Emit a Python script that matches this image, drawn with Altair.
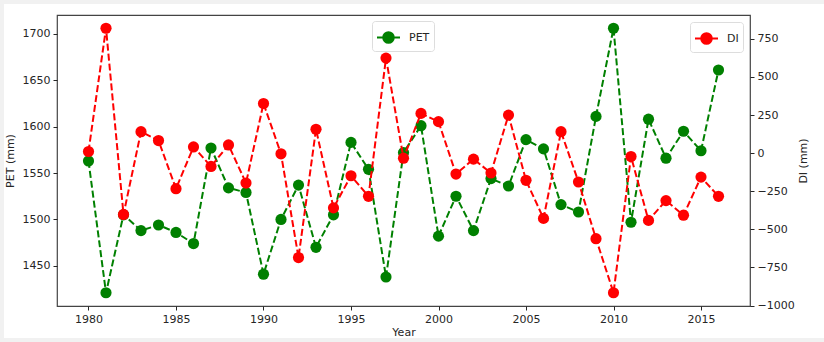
import altair as alt
import pandas as pd

years = list(range(1980, 2017))
pet = [1563, 1421, 1505, 1488, 1494, 1486, 1474, 1577, 1534, 1529,
       1441, 1500, 1537, 1470, 1505, 1583, 1554, 1438, 1572, 1601,
       1482, 1525, 1488, 1544, 1536, 1586, 1576, 1516, 1508, 1611,
       1706, 1497, 1608, 1566, 1595, 1574, 1661]
di = [11, 820, -402, 141, 83, -233, 41, -87, 54, -196,
      326, -4, -685, 157, -359, -148, -283, 624, -33, 261,
      207, -137, -39, -130, 250, -178, -428, 141, -189, -561,
      -916, -22, -441, -311, -407, -157, -283]

pet_ticks = [1450, 1500, 1550, 1600, 1650, 1700]
di_ticks = [-1000, -750, -500, -250, 0, 250, 500, 750]
year_ticks = [1980, 1985, 1990, 1995, 2000, 2005, 2010, 2015]

df = pd.DataFrame({"Year": years, "PET": pet, "DI": di,
                   "s_pet": "PET", "s_di": "DI"})


def padded(vals, frac=0.05):
    lo, hi = min(vals), max(vals)
    m = (hi - lo) * frac
    return [lo - m, hi + m]


FONT = "DejaVu Sans"
TXT = "#262626"
W, H = 693, 291

x_enc = alt.X("Year:Q",
              scale=alt.Scale(domain=padded(years), nice=False, zero=False),
              axis=alt.Axis(values=year_ticks, format="d", title="Year",
                            grid=False, domain=False, tickSize=4,
                            labelPadding=3, titlePadding=2, zindex=1,
                            tickColor=TXT, labelColor=TXT, titleColor=TXT,
                            labelFont=FONT, titleFont=FONT, labelFontSize=11,
                            titleFontSize=11, titleFontWeight="normal"))

sym_path = "M-1,0L1,0M-0.46,0A0.46,0.46,0,1,0,0.46,0A0.46,0.46,0,1,0,-0.46,0Z"

# light grey page border (screenshot frame)
frame = alt.Chart(pd.DataFrame({"a": [0]})).mark_rect(
    fill="transparent", stroke="#f1f1f1", strokeWidth=8).encode(
    x=alt.value(-57), x2=alt.value(790), y=alt.value(-15), y2=alt.value(327))


def series(field, sfield, name, color, ticks, orient, lx, ly, title, tpad):
    y_enc = alt.Y(f"{field}:Q",
                  scale=alt.Scale(domain=padded(df[field].tolist()),
                                  nice=False, zero=False),
                  axis=alt.Axis(values=ticks, title=title, orient=orient,
                                format="d",
                                grid=False, domain=False, tickSize=4,
                                labelPadding=3, titlePadding=tpad,
                                titleAngle=270, zindex=1,
                                tickColor=TXT, labelColor=TXT,
                                titleColor=TXT, labelFont=FONT,
                                titleFont=FONT, labelFontSize=11,
                                titleFontSize=11, titleFontWeight="normal"))
    line = alt.Chart(df).mark_line(color=color, strokeWidth=2,
                                   strokeDash=[7, 3]).encode(x=x_enc, y=y_enc)
    pts = alt.Chart(df).mark_point(filled=True, shape="circle", size=125,
                                   opacity=1).encode(
        x=x_enc, y=y_enc,
        color=alt.Color(f"{sfield}:N",
                        scale=alt.Scale(domain=[name], range=[color]),
                        legend=alt.Legend(
                            title=None, orient="none", legendX=lx, legendY=ly,
                            symbolType=sym_path, symbolSize=529,
                            symbolStrokeColor=color, symbolStrokeWidth=2,
                            symbolFillColor=color,
                            fillColor="white", strokeColor="#dddddd",
                            cornerRadius=3, padding=4,
                            labelFont=FONT, labelFontSize=11,
                            labelColor=TXT, labelOffset=8)))
    return alt.layer(line, pts)


pet_layer = series("PET", "s_pet", "PET", "green", pet_ticks, "left",
                   315, 6, "PET (mm)", 7)
di_layer = series("DI", "s_di", "DI", "red", di_ticks, "right",
                  633, 7, "DI (mm)", 14)

chart = alt.layer(pet_layer, di_layer, frame).resolve_scale(
    y="independent", color="independent"
).properties(
    width=W, height=H,
    autosize=alt.AutoSizeParams(type="none"),
    padding={"left": 57, "top": 15, "right": 74, "bottom": 36},
    background="white",
).configure_view(stroke="#444444", strokeWidth=1.2)

chart.save("out.html", embed_options={"renderer": "svg", "actions": False})
